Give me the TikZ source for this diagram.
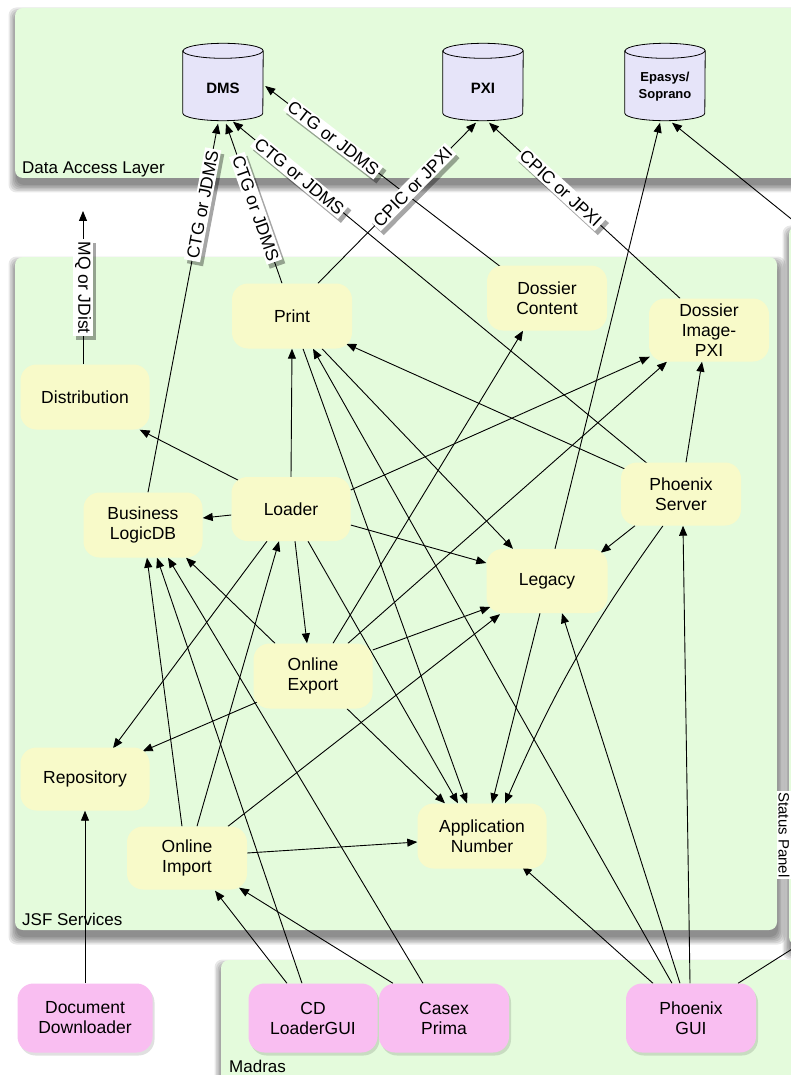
\documentclass[tikz,border=0pt]{standalone}
\usepackage{fontspec}
\setmainfont{Liberation Sans}
\usetikzlibrary{arrows.meta,shadows}
\definecolor{panelgreen}{HTML}{E4FBDC}
\definecolor{nodeyellow}{HTML}{F8FAC9}
\definecolor{nodepink}{HTML}{F9BEF1}
\definecolor{dblav}{HTML}{E6E4F9}
\pgfdeclarelayer{panels}
\pgfdeclarelayer{edges}
\pgfdeclarelayer{shapes}
\pgfsetlayers{panels,edges,shapes,main}
\tikzset{
  panel/.style={fill=panelgreen, rounded corners=8pt},
  paneltext/.style={font=\fontsize{17}{20}\selectfont, anchor=base west, inner sep=0pt},
  svc/.style={fill=nodeyellow, rounded corners=16pt, minimum width=120pt, minimum height=65pt,
    align=center, font=\fontsize{17.5}{20}\selectfont, inner sep=1pt},
  gui/.style={svc, fill=nodepink, minimum height=69pt,
    drop shadow={shadow xshift=2pt, shadow yshift=-3pt, fill=black, opacity=0.12}},
  db/.style={minimum width=80pt, minimum height=77pt, inner sep=0pt},
  dbtext/.style={align=center, font=\bfseries\fontsize{15}{17}\selectfont, inner sep=0pt},
  dbtextsmall/.style={align=center, font=\bfseries\fontsize{13}{17}\selectfont, inner sep=0pt},
  link/.style={draw=black, line width=0.9pt, -{Triangle[length=10pt,width=8pt]}},
  plainlink/.style={draw=black, line width=0.9pt},
  lbl/.style={fill=white, font=\fontsize{17.5}{20}\selectfont, inner sep=2pt,
    drop shadow={shadow xshift=3pt, shadow yshift=-4pt, fill=black, opacity=0.35}},
}
% soft shadow under a panel: #1,#2 top-left corner, #3,#4 bottom-right corner
\newcommand\panelshadow[4]{%
  \foreach \r in {0,1.5,3,4.5,6,7.5}{%
    \fill[black, opacity=0.09, rounded corners=8pt]
      ({#1+1-\r},{#2-7+\r}) rectangle ({#3+1+\r},{#4-7-\r});
  }%
}
\newcommand\dbshape[1]{%
  \filldraw[fill=dblav, draw=black, line width=0.8pt]
    ([yshift=-7.5pt]#1.north west) -- ([yshift=7.5pt]#1.south west)
    arc[start angle=180, end angle=360, x radius=40pt, y radius=7.5pt]
    -- ([yshift=-7.5pt]#1.north east)
    arc[start angle=0, end angle=180, x radius=40pt, y radius=7.5pt] -- cycle;
  \draw[line width=0.8pt] ([yshift=-7.5pt]#1.north west)
    arc[start angle=180, end angle=360, x radius=40pt, y radius=7.5pt];
}
\begin{document}
\begin{tikzpicture}[x=1pt,y=1pt]
\useasboundingbox (0,0) rectangle (791,-1075);
\begin{pgfonlayer}{panels}
  \fill[white] (0,0) rectangle (791,-1075);
  \panelshadow{15}{-8}{830}{-178}
  \path[panel] (15,-8) rectangle (830,-178);
  \panelshadow{15}{-257}{777}{-930}
  \path[panel] (15,-257) rectangle (777,-930);
  \panelshadow{789}{-226}{840}{-945}
  \path[panel] (789,-226) rectangle (840,-945);
  \panelshadow{221}{-960}{840}{-1110}
  \path[panel] (221,-960) rectangle (840,-1110);
  \node[paneltext] (dalL) at (22,-174) {Data Access Layer};
  \node[paneltext] (jsfL) at (22,-925) {JSF Services};
  \node[paneltext] (madL) at (229,-1072) {Madras};
\end{pgfonlayer}

% databases
\node[db] (DMS) at (223,-82) {};
\node[db] (PXI) at (483,-82) {};
\node[db] (EP) at (665,-82) {};
\begin{pgfonlayer}{shapes}
  \dbshape{DMS}\dbshape{PXI}\dbshape{EP}
\end{pgfonlayer}
\node[dbtext] (DMSt) at (223,-88) {DMS};
\node[dbtext] (PXIt) at (483,-88) {PXI};
\node[dbtextsmall] (EPt) at (665,-87) {Epasys/\\Soprano};

% services
\node[svc] (P) at (292,-316) {Print};
\node[svc, minimum width=129pt] (Di) at (85,-397) {Distribution};
\node[svc, minimum width=119pt, minimum height=64pt] (L) at (291,-509) {Loader};
\node[svc, minimum width=119pt] (B) at (143,-525) {Business\\LogicDB};
\node[svc, minimum width=119pt] (OE) at (313,-676) {Online\\Export};
\node[svc, minimum width=129pt, minimum height=63pt] (R) at (85,-779) {Repository};
\node[svc, minimum height=63pt] (OI) at (187,-858) {Online\\Import};
\node[svc, minimum width=129pt] (AN) at (482,-836) {Application\\Number};
\node[svc, minimum width=121pt, minimum height=64pt] (Lg) at (547,-581) {Legacy};
\node[svc] (DC) at (547,-298) {Dossier\\Content};
\node[svc, minimum height=63pt] (DI) at (709,-330) {Dossier\\Image-\\PXI};
\node[svc, minimum height=63pt] (PS) at (681,-494) {Phoenix\\Server};

% GUIs
\node[gui, minimum width=135pt] (DD) at (85,-1018) {Document\\Downloader};
\node[gui, minimum width=129pt] (CD) at (313,-1018) {CD\\LoaderGUI};
\node[gui, minimum width=130pt] (CP) at (444,-1018) {Casex\\Prima};
\node[gui, minimum width=130pt] (PG) at (691,-1018) {Phoenix\\GUI};

\node[fill=white, font=\fontsize{15}{18}\selectfont, inner sep=1.5pt, rotate=-90] (SPl) at (784,-835) {Status Panel};

\coordinate (mq) at (83,-211);
\coordinate (sp1) at (800,-226);
\coordinate (sp2) at (800,-944);

\begin{pgfonlayer}{edges}
  % plain edges
  \draw[link] ([xshift=8pt]Lg.north) -- ([xshift=-5pt,yshift=-2pt]EP.south);
  \draw[link] (sp1) -- ([xshift=7pt,yshift=-2pt]EP.south);
  \draw[link] ([xshift=8pt,yshift=-4pt]L.north west) -- ([xshift=-10pt]Di.south east);
  \draw[link] (L.north) -- (P.south);
  \draw[link] ([yshift=-6pt]L.west) -- ([yshift=7pt]B.east);
  \draw[link] ([xshift=-24pt]L.south) -- ([xshift=28pt,yshift=-1pt]R.north);
  \draw[link] ([xshift=4pt]L.south) -- ([xshift=-6pt]OE.north);
  \draw[link] ([xshift=17pt]L.south) -- ([xshift=-24pt]AN.north);
  \draw[link] ([yshift=-16pt]L.east) -- ([yshift=18pt]Lg.west);
  \draw[link] ([yshift=19pt]L.east) -- ([xshift=1pt,yshift=5pt]DI.south west);
  \draw[link] ([xshift=10pt]OI.north) -- ([xshift=-12pt]L.south);
  \draw[link] ([xshift=-5pt]OI.north) -- ([xshift=4pt]B.south);
  \draw[link] ([xshift=-11pt]CD.north) -- ([xshift=14pt]B.south);
  \draw[link] ([xshift=-21pt]CP.north) -- ([xshift=25pt]B.south);
  \draw[link] ([xshift=-38pt]OE.north) -- ([xshift=43pt]B.south);
  \draw[link] ([xshift=-26pt]CD.north) -- ([xshift=28pt,yshift=-1pt]OI.south);
  \draw[link] ([xshift=-51pt]CP.north) -- ([xshift=52pt,yshift=2pt]OI.south);
  \draw[link] ([xshift=41pt]OI.north) -- ([xshift=-47pt,yshift=-1pt]Lg.south);
  \draw[link] ([yshift=5pt]OI.east) -- ([yshift=-6pt]AN.west);
  \draw[link] ([xshift=7pt,yshift=8pt]OE.south west) -- ([xshift=-7pt,yshift=-4pt]R.north east);
  \draw[link] ([xshift=34pt]OE.south) -- ([xshift=-37pt]AN.north);
  \draw[link] ([yshift=26pt]OE.east) -- ([xshift=4pt,yshift=-26pt]Lg.west);
  \draw[link] ([xshift=20pt]OE.north) -- ([xshift=-24pt]DC.south);
  \draw[link] ([xshift=35pt]OE.north) -- ([xshift=-42pt]DI.south);
  \draw[link] ([xshift=11pt]P.south) -- ([xshift=-15pt]AN.north);
  \draw[link] ([xshift=30pt]P.south) -- ([xshift=-34pt]Lg.north);
  \draw[link] ([xshift=-19pt]PG.north) -- ([xshift=21pt]P.south);
  \draw[link] ([xshift=7pt,yshift=-8pt]PS.north west) -- ([xshift=-6pt,yshift=5pt]P.south east);
  \draw[link] ([xshift=-46pt]PS.south) -- ([xshift=-7pt,yshift=-4pt]Lg.north east);
  \draw[link] ([xshift=5pt]PS.north) -- ([xshift=-7pt]DI.south);
  \draw[link] ([xshift=-18pt]PS.south) to[bend right=6] ([xshift=23pt]AN.north);
  \draw[link] ([xshift=-1pt]PG.north) -- ([xshift=2pt]PS.south);
  \draw[link] ([xshift=-11pt]PG.north) -- ([xshift=15pt]Lg.south);
  \draw[link] ([xshift=-38pt]PG.north) -- ([xshift=40pt,yshift=2.5pt]AN.south);
  \draw[plainlink] ([xshift=47pt]PG.north) -- (sp2);
  \draw[link] ([xshift=-7pt]Lg.south) -- ([xshift=10pt]AN.north);
  \draw[link] (DD.north) -- (R.south);
  % labelled edges
  \draw[link] ([xshift=-2pt]Di.north) -- (mq)
    node[lbl, pos=0.5, rotate=-90] (lmq) {MQ or JDist};
  \draw[link] ([xshift=5pt]B.north) -- ([xshift=-5pt,yshift=-3pt]DMS.south)
    node[lbl, sloped, pos=0.78] (l1) {CTG or JDMS};
  \draw[link] ([xshift=-10pt]P.north) -- ([xshift=3pt,yshift=-3pt]DMS.south)
    node[lbl, sloped, pos=0.47] (l2) {CTG or JDMS};
  \draw[link] ([xshift=-34pt,yshift=-1pt]PS.north) -- ([xshift=10pt,yshift=-1pt]DMS.south)
    node[lbl, sloped, pos=0.84] (l3) {CTG or JDMS};
  \draw[link] ([xshift=-47pt,yshift=-1pt]DC.north) -- ([xshift=2pt,yshift=-4pt]DMS.east)
    node[lbl, sloped, pos=0.71] (l4) {CTG or JDMS};
  \draw[link] ([xshift=26pt]P.north) -- ([xshift=-7pt,yshift=-2pt]PXI.south)
    node[lbl, sloped, pos=0.6] (l5) {CPIC or JPXI};
  \draw[link] ([xshift=-29pt]DI.north) -- ([xshift=6pt,yshift=-2pt]PXI.south)
    node[lbl, sloped, pos=0.625] (l6) {CPIC or JPXI};
\end{pgfonlayer}
\end{tikzpicture}
\end{document}
